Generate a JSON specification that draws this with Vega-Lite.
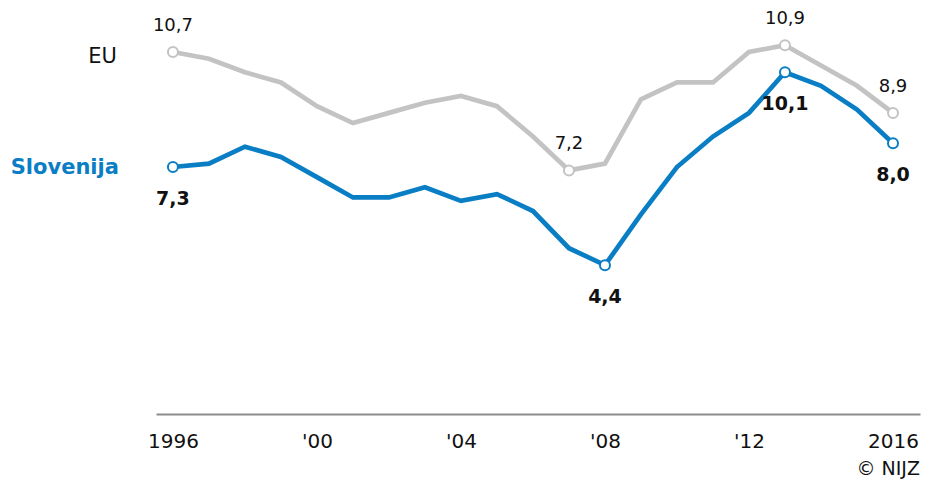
{
  "$schema": "https://vega.github.io/schema/vega-lite/v6.json",
  "width": 764,
  "height": 406,
  "autosize": {"type": "none"},
  "padding": {"left": 156, "top": 8, "right": 7, "bottom": 65},
  "background": "white",
  "title": {
    "text": "© NIJZ",
    "orient": "bottom",
    "anchor": "end",
    "fontSize": 19,
    "fontWeight": "normal",
    "color": "#111",
    "offset": 9
  },
  "data": {
    "values": [
      {"year": 1996, "series": "EU", "value": 10.7},
      {"year": 1997, "series": "EU", "value": 10.5},
      {"year": 1998, "series": "EU", "value": 10.1},
      {"year": 1999, "series": "EU", "value": 9.8},
      {"year": 2000, "series": "EU", "value": 9.1},
      {"year": 2001, "series": "EU", "value": 8.6},
      {"year": 2002, "series": "EU", "value": 8.9},
      {"year": 2003, "series": "EU", "value": 9.2},
      {"year": 2004, "series": "EU", "value": 9.4},
      {"year": 2005, "series": "EU", "value": 9.1},
      {"year": 2006, "series": "EU", "value": 8.2},
      {"year": 2007, "series": "EU", "value": 7.2},
      {"year": 2008, "series": "EU", "value": 7.4},
      {"year": 2009, "series": "EU", "value": 9.3},
      {"year": 2010, "series": "EU", "value": 9.8},
      {"year": 2011, "series": "EU", "value": 9.8},
      {"year": 2012, "series": "EU", "value": 10.7},
      {"year": 2013, "series": "EU", "value": 10.9},
      {"year": 2014, "series": "EU", "value": 10.3},
      {"year": 2015, "series": "EU", "value": 9.7},
      {"year": 2016, "series": "EU", "value": 8.9},
      {"year": 1996, "series": "Slovenija", "value": 7.3},
      {"year": 1997, "series": "Slovenija", "value": 7.4},
      {"year": 1998, "series": "Slovenija", "value": 7.9},
      {"year": 1999, "series": "Slovenija", "value": 7.6},
      {"year": 2000, "series": "Slovenija", "value": 7.0},
      {"year": 2001, "series": "Slovenija", "value": 6.4},
      {"year": 2002, "series": "Slovenija", "value": 6.4},
      {"year": 2003, "series": "Slovenija", "value": 6.7},
      {"year": 2004, "series": "Slovenija", "value": 6.3},
      {"year": 2005, "series": "Slovenija", "value": 6.5},
      {"year": 2006, "series": "Slovenija", "value": 6.0},
      {"year": 2007, "series": "Slovenija", "value": 4.9},
      {"year": 2008, "series": "Slovenija", "value": 4.4},
      {"year": 2009, "series": "Slovenija", "value": 5.9},
      {"year": 2010, "series": "Slovenija", "value": 7.3},
      {"year": 2011, "series": "Slovenija", "value": 8.2},
      {"year": 2012, "series": "Slovenija", "value": 8.9},
      {"year": 2013, "series": "Slovenija", "value": 10.1},
      {"year": 2014, "series": "Slovenija", "value": 9.7},
      {"year": 2015, "series": "Slovenija", "value": 9.0},
      {"year": 2016, "series": "Slovenija", "value": 8.0}
    ]
  },
  "encoding": {
    "x": {
      "field": "year",
      "type": "quantitative",
      "scale": {"domain": [1995.53, 2016.75], "nice": false, "zero": false},
      "axis": {
        "title": null,
        "values": [1996, 2000, 2004, 2008, 2012, 2016],
        "labelExpr": "(datum.value == 1996 || datum.value == 2016) ? '' + datum.value : \"'\" + slice('' + datum.value, 2)",
        "grid": false,
        "ticks": false,
        "domainColor": "#8c8c8c",
        "domainWidth": 2,
        "labelFontSize": 20,
        "labelColor": "#111",
        "labelPadding": 17
      }
    },
    "y": {
      "field": "value",
      "type": "quantitative",
      "scale": {"domain": [0, 12], "nice": false},
      "axis": null
    }
  },
  "layer": [
    {
      "mark": {"type": "line", "strokeWidth": 4.7, "strokeJoin": "miter"},
      "encoding": {
        "color": {
          "field": "series",
          "type": "nominal",
          "scale": {"domain": ["EU", "Slovenija"], "range": ["#c3c3c3", "#0a7ec4"]},
          "legend": null
        }
      }
    },
    {
      "transform": [
        {"joinaggregate": [
          {"op": "min", "field": "value", "as": "lo"},
          {"op": "max", "field": "value", "as": "hi"}
        ], "groupby": ["series"]},
        {"filter": "datum.value == datum.lo || datum.value == datum.hi || datum.year == 1996 || datum.year == 2016"},
        {"calculate": "replace(format(datum.value, '.1f'), '.', ',')", "as": "label"}
      ],
      "layer": [
        {
          "mark": {"type": "point", "shape": "circle", "filled": true, "fill": "white", "size": 100, "strokeWidth": 2, "opacity": 1},
          "encoding": {
            "stroke": {
              "field": "series",
              "type": "nominal",
              "scale": {"domain": ["EU", "Slovenija"], "range": ["#c3c3c3", "#0a7ec4"]},
              "legend": null
            }
          }
        },
        {
          "transform": [{"filter": "datum.series == 'EU'"}],
          "mark": {"type": "text", "dy": -26, "fontSize": 18, "color": "#111"},
          "encoding": {"text": {"field": "label"}}
        },
        {
          "transform": [{"filter": "datum.series == 'Slovenija'"}],
          "mark": {"type": "text", "dy": 32, "fontSize": 19, "fontWeight": "bold", "color": "#111"},
          "encoding": {"text": {"field": "label"}}
        }
      ]
    },
    {
      "transform": [{"filter": "datum.year == 1996 && datum.series == 'EU'"}],
      "mark": {"type": "text", "align": "right", "dx": -56, "dy": 5, "fontSize": 21, "color": "#111"},
      "encoding": {"text": {"field": "series"}}
    },
    {
      "transform": [{"filter": "datum.year == 1996 && datum.series == 'Slovenija'"}],
      "mark": {"type": "text", "align": "right", "dx": -54, "dy": 1, "fontSize": 21, "fontWeight": "bold", "color": "#0a7ec4"},
      "encoding": {"text": {"field": "series"}}
    }
  ],
  "config": {
    "font": "DejaVu Sans",
    "view": {"stroke": null}
  }
}
